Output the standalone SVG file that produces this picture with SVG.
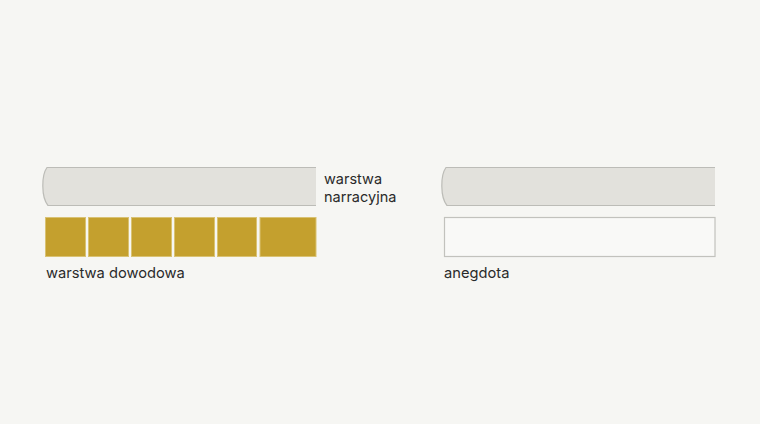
<svg xmlns="http://www.w3.org/2000/svg" width="760" height="424" viewBox="0 0 760 424">
<defs>
<style>
.bg{fill:#f6f6f3}
.scrollfill{fill:#e2e1dc;stroke:none}
.scrollline{fill:none;stroke:#bcbcb7;stroke-width:1.2}
.gold{fill:#c4a02e;stroke:#d9c273;stroke-width:1}
.empty{fill:#f9f9f7;stroke:#c2c2bd;stroke-width:1.2}
.lbl{font-family:Inter,"Liberation Sans",sans-serif;font-size:14.7px;fill:#2a2a2a}
.lbl2{font-size:14.5px}
</style>
<path id="scrollShape" d="M316,167.5 L47,167.5 C41.5,175 41,197 48,205.5 L316,205.5 Z"/>
<path id="scrollEdge" d="M316,167.5 L47,167.5 C41.5,175 41,197 48,205.5 L316,205.5"/>
</defs>
<rect class="bg" x="0" y="0" width="760" height="424"/>
<g id="narrative-layer">
<use href="#scrollShape" class="scrollfill"/>
<use href="#scrollEdge" class="scrollline"/>
<text class="lbl lbl2" x="324" y="184.2">warstwa</text>
<text class="lbl lbl2" x="324" y="201.9">narracyjna</text>
</g>
<g id="evidence-layer">
<rect class="gold" x="45.5" y="217.5" width="40" height="39"/>
<rect class="gold" x="88.5" y="217.5" width="40" height="39"/>
<rect class="gold" x="131.5" y="217.5" width="40" height="39"/>
<rect class="gold" x="174.5" y="217.5" width="40" height="39"/>
<rect class="gold" x="217.5" y="217.5" width="39" height="39"/>
<rect class="gold" x="260" y="217.5" width="56" height="39"/>
<text class="lbl" x="46" y="278">warstwa dowodowa</text>
</g>
<g id="anecdote-narrative" transform="translate(399,0)">
<use href="#scrollShape" class="scrollfill"/>
<use href="#scrollEdge" class="scrollline"/>
</g>
<g id="anecdote">
<rect class="empty" x="444.5" y="217.5" width="270.5" height="39"/>
<text class="lbl" x="444" y="278">anegdota</text>
</g>
<g id="connectors"></g>
</svg>
